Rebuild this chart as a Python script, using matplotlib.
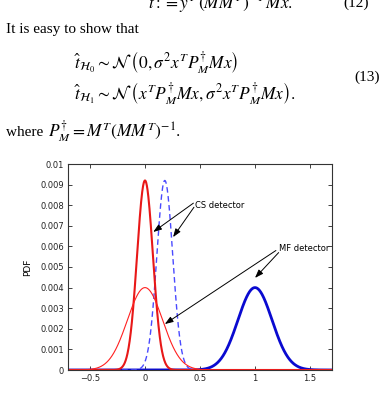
import numpy as np
import matplotlib
matplotlib.use("Agg")
import matplotlib.pyplot as plt

plt.rcParams['mathtext.fontset'] = 'stix'

# ---- data (Gaussian curves: mean, sigma, peak height) ----
curve_names = ["MF H1", "CS H1", "CS H0", "MF H0"]
curve_means = [1.0, 0.18, 0.0, 0.0]
curve_sigmas = [0.155, 0.072, 0.072, 0.16]
curve_peaks = [0.0040, 0.0092, 0.0092, 0.0040]
curve_colors = ["#0a0ad0", "#4a4aff", "#e81818", "#ff2020"]
curve_styles = ["-", "--", "-", "-"]
curve_widths = [2.0, 1.0, 1.5, 0.8]

x_ticks = [-0.5, 0, 0.5, 1, 1.5]
x_tick_labels = ["\u22120.5", "0", "0.5", "1", "1.5"]
y_ticks = [0, 0.001, 0.002, 0.003, 0.004, 0.005, 0.006, 0.007, 0.008, 0.009, 0.01]
y_tick_labels = ["0", "0.001", "0.002", "0.003", "0.004", "0.005", "0.006",
                 "0.007", "0.008", "0.009", "0.01"]

W, H = 381, 398
fig = plt.figure(figsize=(W / 100, H / 100), dpi=100)

# ---- surrounding paper text ----
def fy(px):
    return 1 - px / H

def fx(px):
    return px / W

serif = 'Liberation Serif'
mfs = 12.5
fig.text(fx(148), fy(3), r"$\hat{t} := y^T\,(MM^T)^{-1}\,Mx.$", fontsize=mfs, va='center')
fig.text(fx(343), fy(3), "(12)", fontsize=11, va='center', family=serif)
fig.text(fx(6), fy(30), "It is easy to show that", fontsize=11, va='center', family=serif)
fig.text(fx(74), fy(62),
         r"$\hat{t}_{\mathcal{H}_0} \sim \mathcal{N}\,\left(0,\sigma^2 x^T P_M^{\dagger} M x\right)$",
         fontsize=mfs, va='center')
fig.text(fx(74), fy(93),
         r"$\hat{t}_{\mathcal{H}_1} \sim \mathcal{N}\,\left(x^T P_M^{\dagger} M x,\sigma^2 x^T P_M^{\dagger} M x\right).$",
         fontsize=mfs, va='center')
fig.text(fx(380), fy(77), "(13)", fontsize=11, va='center', ha='right', family=serif)
fig.text(fx(6), fy(132), "where ", fontsize=11, va='center', family=serif)
fig.text(fx(48), fy(132), r"$P_M^{\dagger} = M^T(MM^T)^{-1}.$", fontsize=mfs, va='center')

# ---- the chart ----
ax = fig.add_axes([68 / W, 1 - 370 / H, (332 - 68) / W, (370 - 164) / H])
xs = np.linspace(-0.7, 1.7, 1200)
for m, s, p, c, ls, lw in zip(curve_means, curve_sigmas, curve_peaks,
                              curve_colors, curve_styles, curve_widths):
    ys = p * np.exp(-0.5 * ((xs - m) / s) ** 2)
    ax.plot(xs, ys, color=c, linestyle=ls, linewidth=lw,
            dashes=(4, 2.5) if ls == "--" else (None, None))

ax.set_xlim(-0.7, 1.7)
ax.set_ylim(0, 0.01)
ax.set_xticks(x_ticks)
ax.set_xticklabels(x_tick_labels)
ax.set_yticks(y_ticks)
ax.set_yticklabels(y_tick_labels)
ax.tick_params(direction='in', top=True, right=True, length=3, width=0.6,
               labelsize=6, pad=3, colors='#222222')
for sp in ax.spines.values():
    sp.set_linewidth(0.8)
    sp.set_color('#333333')
ax.set_ylabel("PDF", fontsize=6.5, labelpad=6)

arrow = dict(arrowstyle='-|>,head_length=0.5,head_width=0.18', color='black',
             lw=0.7, shrinkA=0, shrinkB=0)
ax.text(0.455, 0.0080, "CS detector", fontsize=6, va='center', ha='left')
ax.annotate("", xy=(0.075, 0.0067), xytext=(0.44, 0.0081), arrowprops=arrow)
ax.annotate("", xy=(0.255, 0.00645), xytext=(0.445, 0.0079), arrowprops=arrow)
ax.text(1.215, 0.0059, "MF detector", fontsize=6, va='center', ha='left')
ax.annotate("", xy=(1.0, 0.00447), xytext=(1.215, 0.0057), arrowprops=arrow)
ax.annotate("", xy=(0.18, 0.00223), xytext=(1.19, 0.0058), arrowprops=arrow)

fig.savefig("out.png", dpi=100)
